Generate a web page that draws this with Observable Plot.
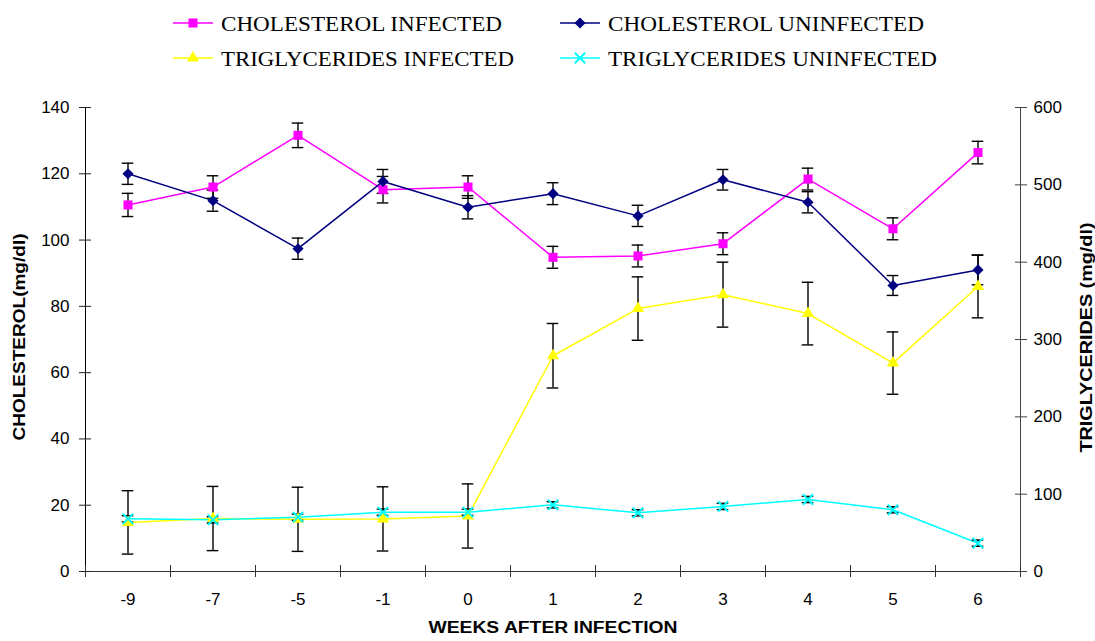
<!DOCTYPE html>
<html>
<head>
<meta charset="utf-8">
<script src="https://cdn.jsdelivr.net/npm/d3@7"></script>
<script src="https://cdn.jsdelivr.net/npm/@observablehq/plot@0.6"></script>
<style>
  html, body { margin: 0; padding: 0; background: #fff; }
  #wrap { width: 1095px; }
  svg { display: block; }
</style>
</head>
<body>
<div id="wrap"></div>
<script>
// ---- data ----
const weeks = ["-9", "-7", "-5", "-1", "0", "1", "2", "3", "4", "5", "6"];
const cholInfected      = [110.6, 116.0, 131.6, 115.2, 116.0, 94.8, 95.2, 98.9, 118.4, 103.4, 126.4];
const cholInfectedErr   = [3.5, 3.4, 3.7, 4.0, 3.4, 3.3, 3.3, 3.3, 3.3, 3.3, 3.4];
const cholUninfected    = [120.0, 111.9, 97.4, 117.7, 109.9, 114.0, 107.3, 118.2, 111.4, 86.3, 91.0];
const cholUninfectedErr = [3.2, 3.2, 3.2, 3.6, 3.5, 3.3, 3.2, 3.1, 3.2, 3.0, 4.5];
const trigInfected      = [63.5, 68.5, 67.5, 68.0, 71.8, 279.0, 340.0, 358.0, 333.5, 269.5, 368.5];
const trigInfectedErr   = [41, 41.5, 41.5, 41.5, 41.5, 41.7, 41, 42, 40.5, 40.3, 40.5];
const trigUninfected    = [68.1, 66.8, 70.2, 76.7, 76.7, 86.2, 75.9, 84.1, 93.1, 79.8, 36.6];
const trigUninfectedErr = [4, 4, 4, 4, 4, 4, 4, 4, 4, 4, 4];

const cholTicks = [0, 20, 40, 60, 80, 100, 120, 140];
const trigTicks = [0, 100, 200, 300, 400, 500, 600];

const seriesNames = ["CHOLESTEROL INFECTED", "CHOLESTEROL UNINFECTED", "TRIGLYCERIDES INFECTED", "TRIGLYCERIDES UNINFECTED"];
const seriesColors = ["#FF00FF", "#000080", "#FFFF00", "#00FFFF"];
const seriesSymbols = ["square", "diamond2", "triangle", "times"];

const xTitle = "WEEKS AFTER INFECTION";
const yLeftTitle = "CHOLESTEROL(mg/dl)";
const yRightTitle = "TRIGLYCERIDES (mg/dl)";

// ---- build table ----
const k = 140 / 600; // triglyceride -> cholesterol axis units
const seriesDefs = [
  {name: seriesNames[0], vals: cholInfected, errs: cholInfectedErr, f: 1},
  {name: seriesNames[1], vals: cholUninfected, errs: cholUninfectedErr, f: 1},
  {name: seriesNames[2], vals: trigInfected, errs: trigInfectedErr, f: k},
  {name: seriesNames[3], vals: trigUninfected, errs: trigUninfectedErr, f: k}
];
const rows = [];
seriesDefs.forEach((s, si) => {
  s.vals.forEach((v, i) => rows.push({series: s.name, si, i, v: v * s.f, e: s.errs[i] * s.f}));
});

// ---- legend (above the chart) ----
const legendSvg = d3.create("svg").attr("width", 1095).attr("height", 80)
  .style("font-family", "'Liberation Serif', 'Times New Roman', serif");
const legendPos = [
  {x: 173, y: 23, tl: 281},
  {x: 560, y: 23, tl: 316},
  {x: 173, y: 58, tl: 293},
  {x: 560, y: 58, tl: 329}
];
const d3sym = {square: d3.symbolSquare, diamond2: d3.symbolDiamond2, triangle: d3.symbolTriangle, times: d3.symbolTimes};
const legendR = [5.1, 5, 4.5, 4.8];
seriesNames.forEach((name, si) => {
  const p = legendPos[si];
  const g = legendSvg.append("g");
  g.append("line").attr("x1", p.x).attr("x2", p.x + 40).attr("y1", p.y).attr("y2", p.y)
    .attr("stroke", seriesColors[si]).attr("stroke-width", 1.5);
  const sym = d3.symbol(d3sym[seriesSymbols[si]], Math.PI * legendR[si] * legendR[si]);
  const path = g.append("path").attr("d", sym()).attr("transform", `translate(${p.x + 20},${p.y})`);
  if (seriesSymbols[si] === "times") path.attr("fill", "none").attr("stroke", seriesColors[si]).attr("stroke-width", 2);
  else path.attr("fill", seriesColors[si]);
  g.append("text").attr("x", p.x + 48).attr("y", p.y + 7.5)
    .attr("font-size", 22).attr("fill", "#000")
    .attr("textLength", p.tl).attr("lengthAdjust", "spacingAndGlyphs")
    .text(name);
});
document.getElementById("wrap").appendChild(legendSvg.node());

// ---- chart ----
const idx = d3.range(weeks.length);
const marks = [];

// axis lines
marks.push(Plot.ruleY([0], {stroke: "#333", strokeWidth: 1}));
marks.push(Plot.ruleX([-0.5], {stroke: "#000", strokeWidth: 1}));
marks.push(Plot.ruleX([weeks.length - 0.5], {stroke: "#444", strokeWidth: 1}));

// left axis: crossing ticks + labels
marks.push(Plot.axisY({anchor: "left", ticks: cholTicks, tickSize: 12, dx: 6, tickFormat: () => "", label: null, stroke: "#222"}));
marks.push(Plot.axisY({anchor: "left", ticks: cholTicks, tickSize: 0, tickPadding: 16, label: null}));
// right axis
marks.push(Plot.axisY({anchor: "right", ticks: trigTicks.map(v => v * k), tickSize: 12, dx: -6, tickFormat: () => "", label: null, stroke: "#444"}));
marks.push(Plot.axisY({anchor: "right", ticks: trigTicks.map(v => v * k), tickSize: 0, tickPadding: 13, tickFormat: d => String(Math.round(d / k)), label: null}));
// x axis: boundary ticks + category labels
marks.push(Plot.axisX({ticks: d3.range(weeks.length + 1).map(i => i - 0.5), tickSize: 12, dy: -6, tickFormat: () => "", label: null, stroke: "#333"}));
marks.push(Plot.axisX({ticks: idx, tickSize: 0, tickPadding: 21, tickFormat: i => weeks[i], label: null}));

// series
seriesNames.forEach((name, si) => {
  const data = rows.filter(d => d.si === si);
  marks.push(Plot.line(data, {x: "i", y: "v", stroke: seriesColors[si], strokeWidth: 1.5}));
});
const capW = 0.068;
seriesNames.forEach((name, si) => {
  const data = rows.filter(d => d.si === si);
  marks.push(Plot.ruleX(data, {x: "i", y1: d => d.v - d.e, y2: d => d.v + d.e, stroke: "#000", strokeWidth: 1.4}));
  marks.push(Plot.ruleY(data, {y: d => d.v + d.e, x1: d => d.i - capW, x2: d => d.i + capW, stroke: "#000", strokeWidth: 1.4}));
  marks.push(Plot.ruleY(data, {y: d => d.v - d.e, x1: d => d.i - capW, x2: d => d.i + capW, stroke: "#000", strokeWidth: 1.4}));
});
const dotR = [5.1, 5, 4.5, 4.8];
seriesNames.forEach((name, si) => {
  const data = rows.filter(d => d.si === si);
  if (seriesSymbols[si] === "times") {
    marks.push(Plot.dot(data, {x: "i", y: "v", symbol: "times", r: dotR[si], stroke: seriesColors[si], strokeWidth: 2}));
  } else {
    marks.push(Plot.dot(data, {x: "i", y: "v", symbol: seriesSymbols[si], r: dotR[si], fill: seriesColors[si], stroke: "none"}));
  }
});

// axis titles
marks.push(Plot.text([xTitle], {frameAnchor: "bottom", dy: 61, textAnchor: "middle", fontWeight: "bold", fontSize: 16, text: d => d}));
marks.push(Plot.text([yLeftTitle], {frameAnchor: "left", dx: -66, dy: -2.5, textAnchor: "middle", rotate: -90, fontWeight: "bold", fontSize: 16, text: d => d}));
marks.push(Plot.text([yRightTitle], {frameAnchor: "right", dx: 66, dy: -2, textAnchor: "middle", rotate: -90, fontWeight: "bold", fontSize: 16, text: d => d}));

const chart = Plot.plot({
  width: 1095,
  height: 561,
  marginTop: 27,
  marginBottom: 70,
  marginLeft: 85,
  marginRight: 75,
  x: {type: "linear", domain: [-0.5, weeks.length - 0.5], axis: null},
  y: {domain: [0, 140], axis: null},
  style: {fontFamily: "'Liberation Sans', Arial, sans-serif", fontSize: "17px", color: "#000", background: "#fff", overflow: "visible"},
  marks
});
document.getElementById("wrap").appendChild(chart);

// stretch titles to match reference text lengths
const lens = {[xTitle]: 249, [yLeftTitle]: 207, [yRightTitle]: 230};
d3.select(chart).selectAll("text").each(function () {
  const t = this.textContent;
  if (lens[t]) {
    this.setAttribute("textLength", lens[t]);
    this.setAttribute("lengthAdjust", "spacingAndGlyphs");
  }
});
</script>
</body>
</html>
